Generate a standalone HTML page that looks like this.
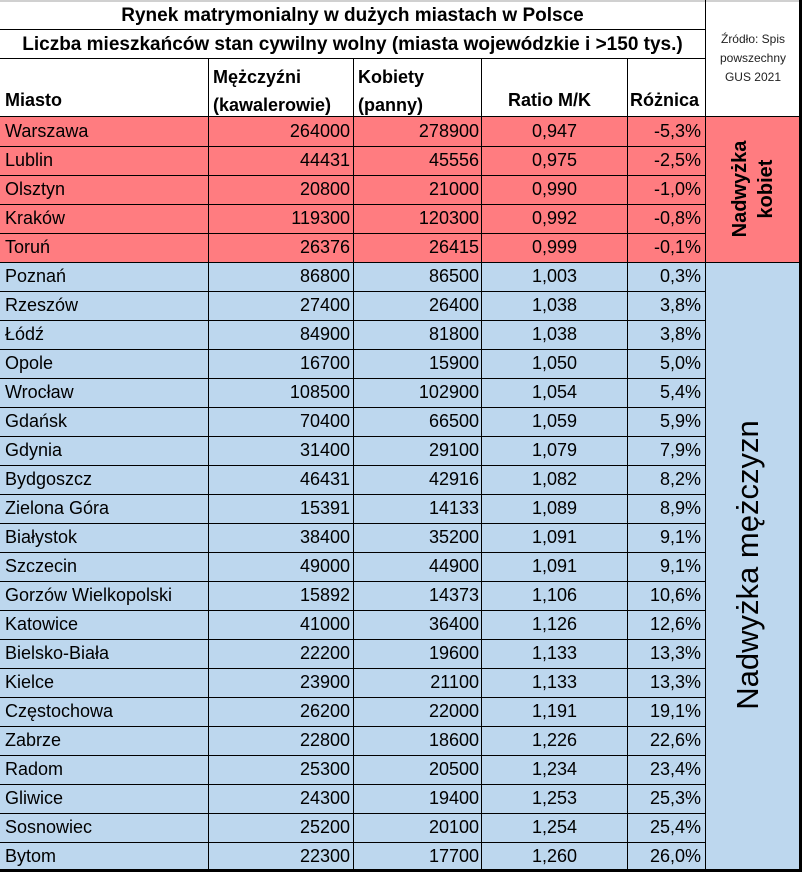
<!DOCTYPE html>
<html><head><meta charset="utf-8"><style>
*{margin:0;padding:0;box-sizing:border-box}
body{width:802px;height:872px;background:#fff;font-family:"Liberation Sans",sans-serif;color:#000;position:relative;overflow:hidden}
.a{position:absolute}
.h{position:absolute;height:1px;background:#000}
.v{position:absolute;width:1px;background:#000}
.r{position:absolute;left:0;width:705px;height:29px;font-size:18px;line-height:29px}
.r span{position:absolute;top:0;white-space:nowrap}
.c1{left:5px}
.c2{right:355px}
.c3{right:226px}
.c4{left:482px;width:145px;text-align:center}
.c5{right:4px}
.b{font-weight:bold}
</style></head><body>
<div class="a" style="left:0;top:0;width:802px;height:2px;background:#d0d0d0"></div>
<div class="a b" style="left:0;top:0;width:705px;height:30px;line-height:31px;text-align:center;font-size:19px">Rynek matrymonialny w dużych miastach w Polsce</div>
<div class="a b" style="left:0;top:30px;width:705px;height:29px;line-height:30px;text-align:center;font-size:19px;white-space:nowrap">Liczba mieszkańców stan cywilny wolny (miasta wojewódzkie i &gt;150 tys.)</div>
<div class="a" style="left:705px;top:30px;width:96px;text-align:center;font-size:12px;line-height:19px;color:#222">Źródło: Spis<br>powszechny<br>GUS 2021</div>
<div class="a b" style="left:5px;top:90px;font-size:18px">Miasto</div>
<div class="a b" style="left:213px;top:63px;font-size:18px;line-height:28px">Mężczyźni<br>(kawalerowie)</div>
<div class="a b" style="left:358px;top:63px;font-size:18px;line-height:28px">Kobiety<br>(panny)</div>
<div class="a b" style="left:508px;top:90px;font-size:18px">Ratio M/K</div>
<div class="a b" style="left:630px;top:90px;font-size:18px">Różnica</div>
<div class="a" style="left:0;top:117px;width:705px;height:145px;background:#ff7c80"></div>
<div class="a" style="left:705px;top:117px;width:96px;height:145px;background:#ff7c80"></div>
<div class="a" style="left:0;top:262px;width:801px;height:608px;background:#bdd7ee"></div>
<div id="rows"></div>
<div class="a b" style="left:753px;top:189px;transform:translate(-50%,-50%) rotate(-90deg);font-size:20px;line-height:26px;text-align:center;white-space:nowrap">Nadwyżka<br>kobiet</div>
<div class="a" style="left:748px;top:565px;transform:translate(-50%,-50%) rotate(-90deg);font-size:31px;white-space:nowrap">Nadwyżka mężczyzn</div>
<div class="h" style="left:0;top:29px;width:705px"></div>
<div class="h" style="left:0;top:58px;width:705px"></div>
<div class="h" style="left:0;top:116px;width:801px"></div>
<div class="v" style="left:208px;top:58px;height:813px"></div>
<div class="v" style="left:353px;top:58px;height:813px"></div>
<div class="v" style="left:481px;top:58px;height:813px"></div>
<div class="v" style="left:627px;top:58px;height:813px"></div>
<div class="v" style="left:705px;top:0;height:871px"></div>
<div class="h" style="left:705px;top:262px;width:96px"></div>
<div class="a" style="left:799px;top:0;width:3px;height:872px;background:#000"></div>
<div class="a" style="left:0;top:869px;width:802px;height:3px;background:#000"></div>
<script>
var d=[["Warszawa",264000,278900,"0,947","-5,3%"],["Lublin",44431,45556,"0,975","-2,5%"],["Olsztyn",20800,21000,"0,990","-1,0%"],["Kraków",119300,120300,"0,992","-0,8%"],["Toruń",26376,26415,"0,999","-0,1%"],["Poznań",86800,86500,"1,003","0,3%"],["Rzeszów",27400,26400,"1,038","3,8%"],["Łódź",84900,81800,"1,038","3,8%"],["Opole",16700,15900,"1,050","5,0%"],["Wrocław",108500,102900,"1,054","5,4%"],["Gdańsk",70400,66500,"1,059","5,9%"],["Gdynia",31400,29100,"1,079","7,9%"],["Bydgoszcz",46431,42916,"1,082","8,2%"],["Zielona Góra",15391,14133,"1,089","8,9%"],["Białystok",38400,35200,"1,091","9,1%"],["Szczecin",49000,44900,"1,091","9,1%"],["Gorzów Wielkopolski",15892,14373,"1,106","10,6%"],["Katowice",41000,36400,"1,126","12,6%"],["Bielsko-Biała",22200,19600,"1,133","13,3%"],["Kielce",23900,21100,"1,133","13,3%"],["Częstochowa",26200,22000,"1,191","19,1%"],["Zabrze",22800,18600,"1,226","22,6%"],["Radom",25300,20500,"1,234","23,4%"],["Gliwice",24300,19400,"1,253","25,3%"],["Sosnowiec",25200,20100,"1,254","25,4%"],["Bytom",22300,17700,"1,260","26,0%"]];
var h="";for(var i=0;i<d.length;i++){var t=117+29*i;var r=d[i];
h+='<div class="r" style="top:'+t+'px"><span class="c1">'+r[0]+'</span><span class="c2">'+r[1]+'</span><span class="c3">'+r[2]+'</span><span class="c4">'+r[3]+'</span><span class="c5">'+r[4]+'</span></div>';
if(i>0)h+='<div class="h" style="left:0;top:'+t+'px;width:705px"></div>';}
document.getElementById("rows").innerHTML=h;
</script>
</body></html>
